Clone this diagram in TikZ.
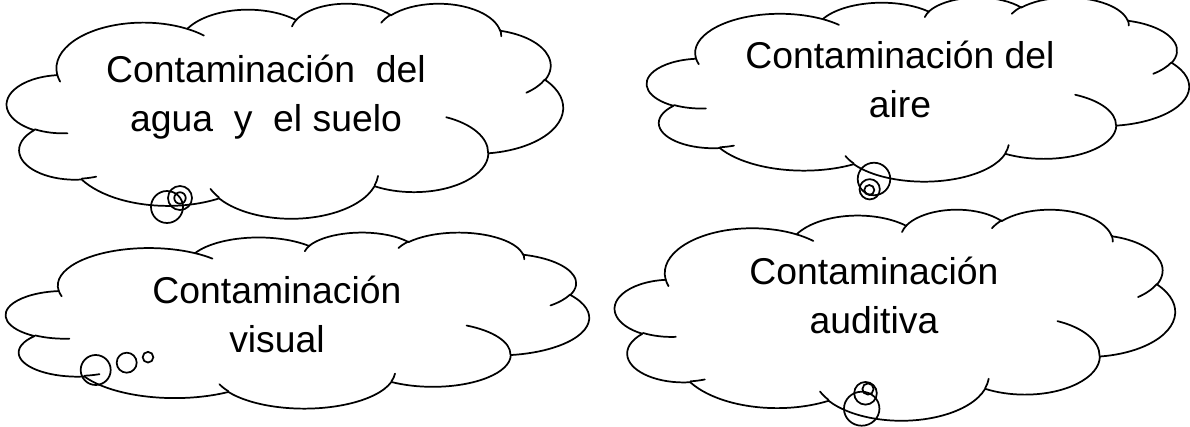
\documentclass[tikz,border=0pt]{standalone}
\usepackage{fontspec}
\setmainfont{Liberation Sans}
\usepackage{tikz}
\usetikzlibrary{calc, positioning}

\tikzset{
    declare function={
        pa(\xr,\yr,\ang)=atan2(\xr*sin(\ang),\yr*cos(\ang));
        pd(\xr,\yr,\ang,\swp)=pa(\xr,\yr,\ang+\swp)-pa(\xr,\yr,\ang)+360*round((\swp-pa(\xr,\yr,\ang+\swp)+pa(\xr,\yr,\ang))/360);
    },
    puff/.style n args={4}{x radius=#1pt, y radius=#2pt, start angle={pa(#1,#2,#3)}, delta angle={pd(#1,#2,#3,#4)}},
    cloudline/.style={draw=black, line width=1.3pt, line join=round, line cap=round},
    bubble/.style={draw=black, line width=1.3pt},
    cloudtext/.style={font=\fontsize{28}{36.75}\selectfont, align=center, inner sep=0pt, anchor=base},
}

% left, top, width, height of the frame (in px)
\newcommand\drawcloud[4]{%
    \begin{scope}[shift={(#1,#2)}, xscale=#3/57.6, yscale=-#4/57.6]
        \draw[cloudline] (3.9pt,14.37pt)
            arc[puff={6.753}{9.19}{-190.48748}{123.78053}]
            arc[puff={5.333}{7.267}{-144.10238}{89.94523}]
            arc[puff={4.365}{5.945}{-145.80792}{99.72302}]
            arc[puff={4.857}{6.595}{-130.98607}{117.24173}]
            arc[puff={5.333}{7.273}{-78.70888}{109.02692}]
            arc[puff={6.775}{9.22}{-46.26725}{130.269}]
            arc[puff={5.785}{7.867}{0.62502}{114.03333}]
            arc[puff={6.752}{9.215}{22.4516}{115.17255}]
            arc[puff={7.72}{10.543}{66.24263}{75.71102}]
            arc[puff={4.36}{5.918}{-274.94208}{146.73557}]
            arc[puff={4.345}{5.945}{-246.8285}{152.51885}]
            -- cycle;
        % inner folds
        \draw[cloudline]
            (4.693pt,26.177pt) arc[puff={4.345}{5.945}{86.742}{26.4295}]
            (6.928pt,34.899pt) arc[puff={4.36}{5.918}{73.61047}{11.44747}]
            (16.478pt,39.09pt) arc[puff={6.752}{9.215}{137.62415}{14.0811}]
            (28.827pt,34.751pt) arc[puff={6.752}{9.215}{6.45327}{15.99835}]
            (34.129pt,22.954pt) arc[puff={5.785}{7.867}{-70.29235}{70.91737}]
            (41.798pt,15.354pt) arc[puff={5.333}{7.273}{30.31803}{27.7515}]
            (38.324pt,5.426pt) arc[puff={4.857}{6.595}{-13.74433}{14.8589}]
            (29.078pt,3.952pt) arc[puff={4.857}{6.595}{-149.18145}{18.19537}]
            (22.141pt,4.72pt) arc[puff={4.365}{5.945}{-163.49427}{17.68635}]
            (14pt,5.192pt) arc[puff={6.753}{9.19}{-66.70695}{12.31935}]
            (4.127pt,15.789pt) arc[puff={6.753}{9.19}{157.65435}{11.85817}];
    \end{scope}}

\begin{document}
\begin{tikzpicture}[x=0.75pt, y=-0.75pt]
	\useasboundingbox (0,0) rectangle (1190,427);
	
	\drawcloud{7}{3}{556}{215}
	\drawcloud{647}{-3}{542}{184}
	\drawcloud{6}{232}{583}{176}
	\drawcloud{615}{209}{560}{211}
	
	% anchor base = last line
	\node[cloudtext] (agua) at (266,132) {Contaminación\ \ del\\agua\ \ y\ \ el suelo};
	\node[cloudtext] (aire) at (900,118) {Contaminación del\\aire};
	\node[cloudtext] (visual) at (277,353) {Contaminación\\visual};
	\node[cloudtext] (auditiva) at (874,334) {Contaminación\\auditiva};
	
	% tails
	\draw[bubble] (167,207) circle[radius=12pt];
	\draw[bubble] (180,198) circle[radius=9pt];
	\draw[bubble] (180,198) circle[radius=4.3pt];
	
	\draw[bubble] (874,179) circle[radius=12.2pt];
	\draw[bubble] (869.7,189.3) circle[radius=7.6pt];
	\draw[bubble] (869.3,190) circle[radius=3.75pt];
	
	\draw[bubble] (95.7,370) circle[radius=11.25pt];
	\draw[bubble] (126.7,362.7) circle[radius=7.5pt];
	\draw[bubble] (148,357.2) circle[radius=4pt];
	
	\draw[bubble] (861.7,408.7) ellipse[x radius=13.3pt, y radius=12.75pt];
	\draw[bubble] (865.5,393.3) circle[radius=8.5pt];
	\draw[bubble] (868,389) circle[radius=4.2pt];
\end{tikzpicture}
\end{document}
